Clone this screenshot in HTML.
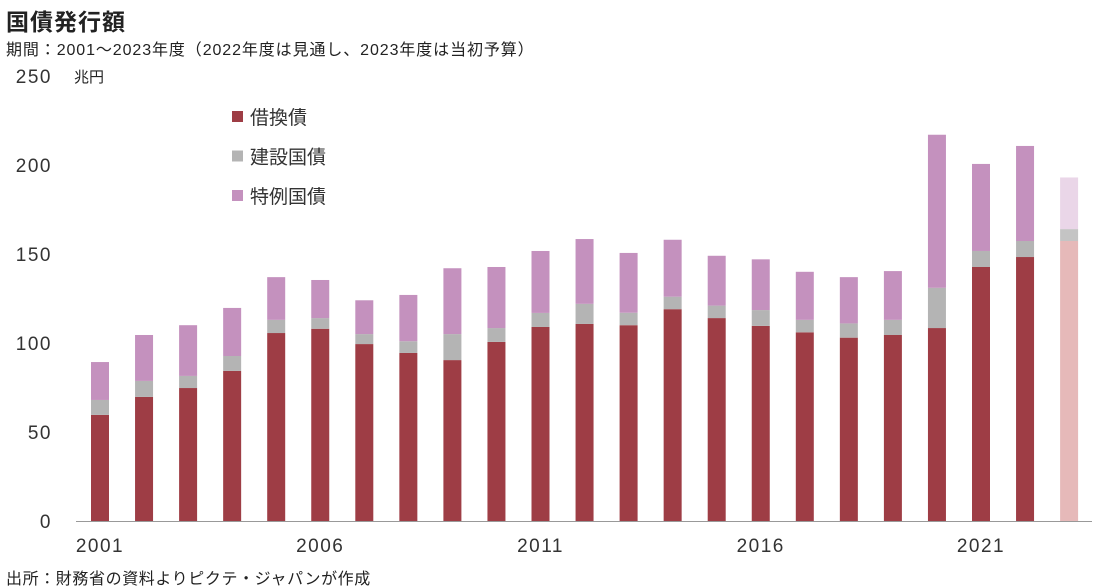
<!DOCTYPE html>
<html><head><meta charset="utf-8">
<style>
body{margin:0;background:#fff;font-family:"Liberation Sans","Noto Sans CJK JP",sans-serif;}
#wrap{position:relative;width:1105px;height:588px;overflow:hidden;}
.t{position:absolute;color:#222;white-space:nowrap;}
</style></head>
<body>
<div id="wrap">
<div class="t" style="left:6px;top:3px;font-size:23px;font-weight:bold;letter-spacing:1px;">国債発行額</div>
<div class="t" style="left:6px;top:36px;font-size:16px;letter-spacing:0.9px;">期間：2001～2023年度（2022年度は見通し、2023年度は当初予算）</div>
<div class="t" style="left:74px;top:66px;font-size:15px;">兆円</div>
<div class="t" style="left:6px;top:565px;font-size:16px;letter-spacing:0.6px;">出所：財務省の資料よりピクテ・ジャパンが作成</div>
<svg id="chart" width="1105" height="588" style="position:absolute;left:0;top:0"></svg>
</div>
<script>
const years=["2001","2002","2003","2004","2005","2006","2007","2008","2009","2010","2011","2012","2013","2014","2015","2016","2017","2018","2019","2020","2021","2022","2023"];
const refunding=[59.6,69.7,74.7,84.3,105.6,108,99.4,94.4,90.4,100.6,109,110.7,110,119,114,109.6,106,103,104.5,108.4,142.7,148.3,157.3];
const construction=[8.4,9,6.8,8.4,7.4,6,5.6,6.6,14.6,7.8,7.9,11.3,7,7,7,8.9,7,8,8.5,22.6,9,9,6.7];
const deficit=[21.3,25.8,28.5,27,24,21.4,19,26,37,34.3,34.8,36.4,33.6,32,28,28.5,27,26,27.4,86,48.9,53.4,29];
const yTicks=[0,50,100,150,200,250];
const xLabels=["2001","2006","2011","2016","2021"];
const NS="http://www.w3.org/2000/svg";
const svg=document.getElementById('chart');
const y0=521,pxPer=1.78,x0=100,step=44.05,bw=18;
const Y=v=>y0-v*pxPer;
const X=i=>x0+i*step;
function mk(tag,attrs){const e=document.createElementNS(NS,tag);for(const k in attrs)e.setAttribute(k,attrs[k]);svg.appendChild(e);return e;}
yTicks.forEach(v=>{const t=mk('text',{x:52,y:Y(v)+7,'text-anchor':'end','font-size':19,'letter-spacing':1.5,fill:'#333'});t.textContent=v;

});
const ax=mk('line',{x1:76,x2:1092,y1:y0+0.5,y2:y0+0.5,stroke:'#999','stroke-width':1});


years.forEach((yr,i)=>{
  const last=i===years.length-1;
  const cols=last?['#e6b9b9','#c4c4c4','#ead6e8']:['#9e3d45','#b4b4b4','#c491be'];
  let base=0;
  [[refunding[i],'refunding'],[construction[i],'construction'],[deficit[i],'deficit']].forEach((s,k)=>{
    const r=mk('rect',{x:X(i)-bw/2,y:Y(base+s[0]),width:bw,height:s[0]*pxPer,fill:cols[k]});
    
    
    base+=s[0];
  });
  if(xLabels.includes(yr)){const t=mk('text',{x:X(i),y:552,'text-anchor':'middle','font-size':19,'letter-spacing':1.5,fill:'#333'});t.textContent=yr;
  
  }
});
const legend=[["借換債",'#9e3d45'],["建設国債",'#b4b4b4'],["特例国債",'#c491be']];
legend.forEach((l,i)=>{
  const yy=117+i*39.5;
  const r=mk('rect',{x:232,y:yy-6,width:11,height:11,fill:l[1]});
  
  
  const t=mk('text',{x:250,y:yy+7,'font-size':19,fill:'#333'});t.textContent=l[0];
  
  
});
</script>
</body></html>
